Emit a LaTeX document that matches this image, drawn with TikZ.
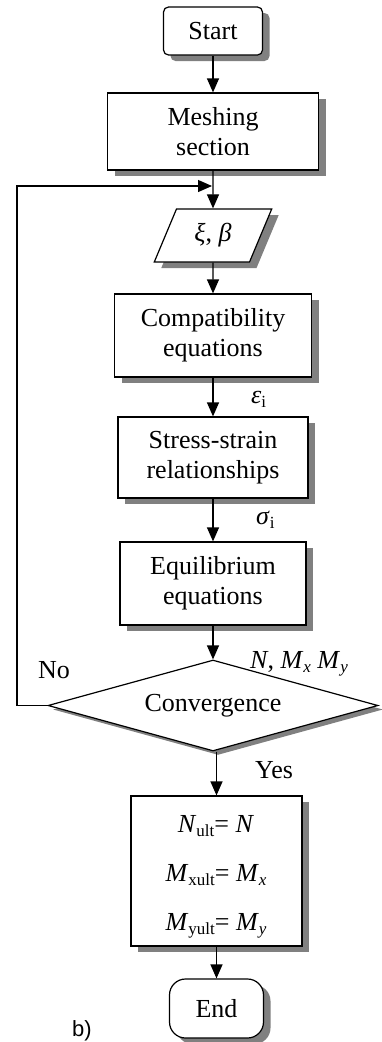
\documentclass[tikz,border=0pt]{standalone}
\usepackage{fontspec}
\setmainfont{Liberation Serif}
\newfontfamily\labsans{Liberation Sans}
\usetikzlibrary{shapes.geometric,shadows,arrows.meta}
\newcommand\sbx[1]{\raisebox{-4.5pt}{\fontsize{17}{17}\selectfont #1}}
\begin{document}
\begin{tikzpicture}[x=1pt,y=-1pt,
  every node/.style={font=\fontsize{26}{30}\selectfont},
  shd/.style={drop shadow={shadow xshift=7pt,shadow yshift=-6pt,fill=black!50,opacity=1}},
  box/.style={draw,fill=white,line width=1.2pt,rectangle,inner sep=0pt,align=center,shd},
  arr/.style={line width=1.2pt,-{Triangle[length=14pt,width=12pt]}},
  lab/.style={anchor=base west,inner sep=0pt}]
\useasboundingbox (0,0) rectangle (382,1042);

\node[box,rounded corners=5pt,minimum width=99pt,minimum height=48pt] (start) at (213,31) {Start};
\node[box,minimum width=211pt,minimum height=77pt] (mesh) at (213,131.5) {Meshing\\section};
\node[box,trapezium,trapezium left angle=64.7,trapezium right angle=115.3,trapezium stretches=true,minimum width=118pt,minimum height=53pt] (par) at (213,235.5) {\textit{ξ}, \textit{β}};
\node[box,minimum width=197pt,minimum height=83pt] (comp) at (213,335.5) {Compatibility\\equations};
\node[box,minimum width=190pt,minimum height=81pt] (stress) at (213,457.5) {Stress-strain\\relationships};
\node[box,minimum width=186pt,minimum height=83pt] (equil) at (213,583.5) {Equilibrium\\equations};
\node[draw,fill=white,line width=1.2pt,diamond,shape aspect=3.6,inner sep=0pt,minimum width=330pt,minimum height=91pt,drop shadow={shadow xshift=5pt,shadow yshift=-4pt,fill=black!50,opacity=1}] (dia) at (213,705.5) {Convergence};
\node[box,minimum width=171pt,minimum height=150pt] (res) at (216.5,871) {};
\node[anchor=base,inner sep=0pt] (r1) at (216,832) {\textit{N}\sbx{ult}= \textit{N}};
\node[anchor=base,inner sep=0pt] (r2) at (216,881) {\textit{M}\sbx{xult}= \textit{M}\sbx{\textit{x}}};
\node[anchor=base,inner sep=0pt] (r3) at (216,930) {\textit{M}\sbx{yult}= \textit{M}\sbx{\textit{y}}};
\node[box,rounded corners=16pt,minimum width=94pt,minimum height=59pt] (end) at (216.5,1008.5) {End};

\node[lab] (eps) at (251,403) {\textit{ε}\sbx{i}};
\node[lab] (sig) at (256,524) {\textit{σ}\sbx{i}};
\node[lab] (nm) at (250,668) {\textit{N}, \textit{M}\sbx{\textit{x}} \textit{M}\sbx{\textit{y}}};
\node[lab] (no) at (38,678) {No};
\node[lab] (yes) at (255,778) {Yes};
\node[lab,font=\labsans\fontsize{22}{22}\selectfont] (blab) at (72,1036) {b)};

\coordinate (fbL) at (17,186);
\coordinate (fbE) at (212,186);

\draw[arr] (start.south) -- (mesh.north);
\draw[arr] (mesh.south) -- (par.north);
\draw[arr] (par.south) -- (comp.north);
\draw[arr] (comp.south) -- (stress.north);
\draw[arr] (stress.south) -- (equil.north);
\draw[arr] (equil.south) -- (dia.north);
\draw[arr] (res.north |- dia.south) -- (res.north);
\draw[arr] (res.south) -- (end.north);
\draw[arr] (dia.west) -| (fbL) -- (fbE);
\end{tikzpicture}
\end{document}
